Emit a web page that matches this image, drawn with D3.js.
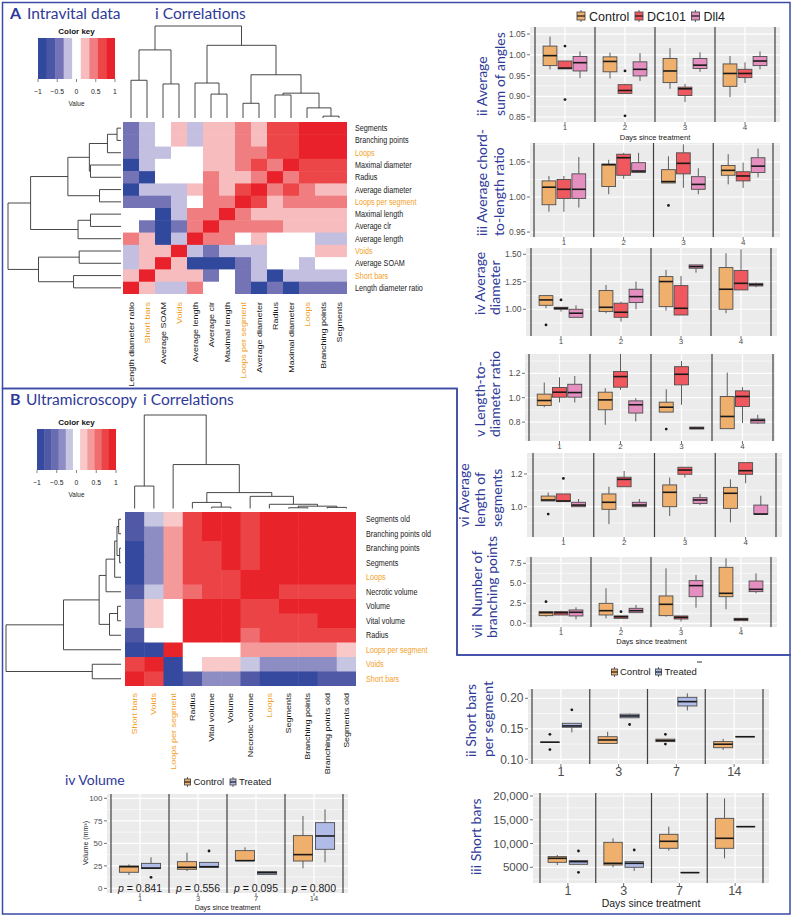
<!DOCTYPE html>
<html>
<head>
<meta charset="utf-8">
<script src="https://cdn.jsdelivr.net/npm/d3@7"></script>
<style>
  body { margin: 0; background: #fff; }
  svg text { white-space: pre; }
</style>
</head>
<body>
<svg id="fig" width="793" height="917"></svg>
<script>
// ---------- A: intravital correlation heatmap ----------
const aCols = ['Length diameter ratio', 'Short bars', 'Average SOAM', 'Voids', 'Average length', 'Average clr',
    'Maximal length', 'Loops per segment', 'Average diameter', 'Radius', 'Maximal diameter', 'Loops',
    'Branching points', 'Segments'];
const aRows = aCols.slice().reverse();
const aCorr = [
    [-0.5, -0.25, 0, 0.25, -0.25, 0.25, 0.25, 0.45, 0.25, 0.7, 0.7, 0.9, 0.9, 1],
    [-0.5, -0.25, 0, 0.25, -0.25, 0.25, 0.25, 0.45, 0.25, 0.7, 0.7, 0.9, 1, 0.9],
    [-0.5, -0.25, -0.25, 0, 0, 0.25, 0.25, 0.45, 0.45, 0.7, 0.7, 1, 0.9, 0.9],
    [-0.9, -0.25, 0, 0, 0, 0.25, 0.25, 0.45, 0.7, 0.45, 1, 0.7, 0.7, 0.7],
    [-0.5, -0.9, 0, 0, 0, 0.45, 0.25, 0.25, 0.45, 1, 0.45, 0.7, 0.7, 0.7],
    [-0.9, -0.25, -0.25, -0.25, 0.25, 0.45, 0.25, 0.7, 1, 0.45, 0.7, 0.45, 0.25, 0.25],
    [-0.5, -0.5, -0.5, -0.25, 0, 0.45, 0.45, 1, 0.7, 0.25, 0.45, 0.45, 0.45, 0.45],
    [0, 0, -0.9, -0.25, 0.45, 0.45, 1, 0.45, 0.25, 0.25, 0.25, 0.25, 0.25, 0.25],
    [0, -0.5, -0.9, -0.5, 0.45, 1, 0.45, 0.45, 0.45, 0.45, 0.25, 0.25, 0.25, 0.25],
    [0.45, 0.25, -0.9, -0.25, 1, 0.45, 0.45, 0, 0.25, 0, 0, 0, -0.25, -0.25],
    [-0.25, 0.25, 0.25, 1, -0.25, -0.5, -0.25, -0.25, -0.25, 0, 0, 0, 0.25, 0.25],
    [-0.25, 0.25, 1, 0.25, -0.9, -0.9, -0.9, -0.5, -0.25, 0, 0, -0.25, 0, 0],
    [0.25, 1, 0.25, 0.25, 0.25, -0.5, 0, -0.5, -0.25, -0.9, -0.25, -0.25, -0.25, -0.25],
    [1, 0.25, -0.25, -0.25, 0.45, 0, 0, -0.5, -0.9, -0.5, -0.9, -0.5, -0.5, -0.5]
];
// trees: [height, left, right], leaves are indices
const aColTree = [1.0, [0.74, [0.41, 0, 1], [0.37, 2, 3]],
    [0.79, [0.38, 4, [0.26, 5, 6]], [0.47, [0.16, 7, 8], [0.27, [0.25, 9, 10], [0.11, 11, [0.02, 12, 13]]]]]];
const aRowTree = [1.0, [0.80, [0.47, [0.28, [0.12, [0.035, 0, 1], 2], [0.27, 3, 4]], [0.19, 5, 6]], [0.38, [0.27, 7, 8], 9]],
    [0.73, [0.37, 10, 11], [0.42, 12, 13]]];
const aPalette = ['#30499d', '#4a56a6', '#7473b6', '#c2bfe0', '#ffffff', '#f7bcbe', '#f07e80', '#ec4648', '#e8212a'];

// ---------- B: ultramicroscopy correlation heatmap ----------
const bCols = ['Short bars', 'Voids', 'Loops per segment', 'Radius', 'Vital volume', 'Volume', 'Necrotic volume',
    'Loops', 'Segments', 'Branching points', 'Branching points old', 'Segments old'];
const bRows = bCols.slice().reverse();
const bCorr = [
    [-0.75, -0.2, 0.2, 0.75, 0.92, 0.92, 0.75, 0.92, 0.92, 0.92, 0.92, 1],
    [-0.75, -0.4, 0.4, 0.75, 0.92, 0.92, 0.75, 0.92, 0.92, 0.92, 1, 0.92],
    [-0.9, -0.4, 0.4, 0.75, 0.75, 0.92, 0.75, 0.92, 0.92, 1, 0.92, 0.92],
    [-0.9, -0.4, 0.4, 0.75, 0.75, 0.92, 0.75, 0.92, 1, 0.92, 0.92, 0.92],
    [-0.9, -0.4, 0.4, 0.75, 0.75, 0.75, 0.92, 1, 0.92, 0.92, 0.92, 0.92],
    [-0.75, -0.2, 0.4, 0.55, 0.75, 0.75, 1, 0.92, 0.75, 0.75, 0.75, 0.75],
    [-0.4, 0.2, 0, 0.92, 0.92, 1, 0.75, 0.75, 0.92, 0.92, 0.92, 0.92],
    [-0.4, 0.2, 0, 0.92, 1, 0.92, 0.75, 0.75, 0.75, 0.75, 0.92, 0.92],
    [-0.75, 0, 0, 1, 0.92, 0.92, 0.55, 0.75, 0.75, 0.75, 0.75, 0.75],
    [-0.9, -0.9, 1, 0, 0, 0, 0.4, 0.4, 0.4, 0.4, 0.4, 0.2],
    [0.75, 1, -0.9, 0, 0.2, 0.2, -0.2, -0.4, -0.4, -0.4, -0.4, -0.2],
    [1, 0.75, -0.9, -0.75, -0.4, -0.4, -0.75, -0.9, -0.9, -0.9, -0.75, -0.75]
];
const bColTree = [1.0, [0.24, 0, 1], [0.47, 2, [0.17, [0.065, 3, [0.015, 4, 5]],
    [0.13, 6, [0.045, 7, [0.025, [0.008, 8, 9], [0.012, 10, 11]]]]]]];
const bRowTree = [1.0, [0.5, [0.19, [0.13, [0.055, [0.035, [0.02, 0, 1], [0.012, 2, 3]], 4], 5], [0.1, [0.03, 6, 7], 8]], 9],
    [0.25, 10, 11]];
const bPalette = ['#35499e', '#5059a6', '#6a6cb2', '#8d8dc4', '#c6c5e2', '#ffffff', '#f9c9c9', '#f49a9a', '#ef6d6f', '#ec4446', '#e8242a'];

const orangeVars = ['Short bars', 'Voids', 'Loops per segment', 'Loops'];
const keyTicks = [-1, -0.5, 0, 0.5, 1];

// ---------- box plot data: [lowWhisker, q1, median, q3, highWhisker, ...outliers] ----------
const days4 = ['1', '2', '3', '4'];
const daysB = ['1', '3', '7', '14'];
const groups3 = ['Control', 'DC101', 'Dll4'];
const groups2 = ['Control', 'Treated'];

const angTicks = [0.85, 0.90, 0.95, 1.00, 1.05];
const angControl = [[0.965, 0.974, 0.998, 1.021, 1.044], [0.943, 0.959, 0.984, 0.995, 1.005], [0.918, 0.933, 0.961, 0.991, 1.016], [0.898, 0.924, 0.955, 0.978, 0.997]];
const angDC101 = [[0.966, 0.966, 0.968, 0.985, 0.985, 1.021, 0.892], [0.906, 0.907, 0.914, 0.928, 0.930, 0.961, 0.853], [0.886, 0.902, 0.918, 0.922, 0.930], [0.932, 0.945, 0.955, 0.965, 0.982]];
const angDll4 = [[0.944, 0.961, 0.981, 0.996, 1.008], [0.937, 0.949, 0.965, 0.983, 1.004], [0.959, 0.967, 0.975, 0.991, 1.006], [0.965, 0.974, 0.985, 0.996, 1.008]];

const chordTicks = [0.95, 1.00, 1.05];
const chordControl = [[0.979, 0.989, 1.014, 1.023, 1.030], [1.004, 1.015, 1.046, 1.047, 1.053], [1.020, 1.020, 1.022, 1.039, 1.058, 0.988], [1.018, 1.031, 1.038, 1.045, 1.061]];
const chordDC101 = [[0.979, 0.998, 1.011, 1.025, 1.030], [1.026, 1.031, 1.056, 1.061, 1.063], [1.013, 1.033, 1.048, 1.063, 1.075], [1.013, 1.023, 1.030, 1.036, 1.049]];
const chordDll4 = [[0.985, 0.998, 1.011, 1.033, 1.057], [1.035, 1.035, 1.037, 1.049, 1.063], [1.004, 1.011, 1.018, 1.029, 1.041], [1.028, 1.035, 1.044, 1.056, 1.069]];

const diamTicks = [1.00, 1.25, 1.50];
const diamControl = [[1.009, 1.036, 1.085, 1.124, 1.13, 0.858], [0.964, 0.979, 1.018, 1.170, 1.221], [0.988, 1.024, 1.252, 1.297, 1.358], [0.964, 1.0, 1.182, 1.379, 1.509]];
const diamDC101 = [[0.979, 1.0, 1.009, 1.018, 1.018, 1.085], [0.888, 0.927, 0.973, 1.055, 1.070], [0.948, 0.948, 1.009, 1.215, 1.303], [1.176, 1.176, 1.236, 1.352, 1.545]];
const diamDll4 = [[0.927, 0.927, 0.964, 1.0, 1.036], [1.0, 1.061, 1.115, 1.182, 1.252], [1.333, 1.373, 1.388, 1.403, 1.403], [1.2, 1.212, 1.224, 1.236, 1.242]];

const ldrTicks = [0.8, 1.0, 1.2];
const ldrControl = [[0.922, 0.936, 0.977, 1.029, 1.124], [0.778, 0.901, 0.982, 1.045, 1.078], [0.882, 0.882, 0.922, 0.963, 1.069, 0.743], [0.746, 0.746, 0.846, 1.01, 1.205]];
const ldrDC101 = [[0.961, 1.004, 1.045, 1.083, 1.167], [1.064, 1.086, 1.173, 1.214, 1.358], [0.942, 1.105, 1.192, 1.254, 1.3], [0.792, 0.928, 1.01, 1.056, 1.086]];
const ldrDll4 = [[0.961, 1.004, 1.042, 1.110, 1.178], [0.806, 0.874, 0.942, 0.974, 0.996], [0.743, 0.743, 0.751, 0.759, 0.759], [0.786, 0.792, 0.814, 0.825, 0.860]];

const segTicks = [1.0, 1.2];
const segControl = [[1.035, 1.035, 1.041, 1.065, 1.086, 0.955], [0.894, 0.984, 1.027, 1.078, 1.122], [0.943, 1.0, 1.088, 1.133, 1.178], [0.904, 0.990, 1.082, 1.118, 1.167]];
const segDC101 = [[1.031, 1.031, 1.035, 1.078, 1.078, 1.173], [1.122, 1.122, 1.167, 1.180, 1.218], [1.178, 1.198, 1.224, 1.241, 1.241], [1.143, 1.198, 1.220, 1.269, 1.269]];
const segDll4 = [[1.0, 1.0, 1.010, 1.027, 1.047], [1.0, 1.0, 1.010, 1.027, 1.047], [1.01, 1.020, 1.041, 1.055, 1.078], [0.955, 0.955, 0.955, 1.01, 1.067]];

const brTicks = [0.0, 2.5, 5.0, 7.5];
const brControl = [[0.83, 0.96, 1.33, 1.46, 1.46, 2.71], [0.625, 1.04, 1.58, 2.5, 4.38], [0.83, 0.96, 2.375, 3.42, 6.875], [1.75, 3.33, 3.75, 7.0, 8.125]];
const brDC101 = [[1.04, 1.04, 1.33, 1.46, 1.58], [0.625, 0.625, 0.83, 0.92, 0.92, 1.46], [0.21, 0.54, 0.75, 0.92, 0.92], [0.33, 0.33, 0.5, 0.625, 0.625]];
const brDll4 = [[0.5, 0.92, 1.38, 1.67, 2.0], [1.33, 1.33, 1.58, 1.875, 2.29], [1.96, 3.33, 4.71, 5.33, 6.04], [3.75, 3.96, 4.25, 5.29, 6.25]];

const sbpsTicks = [0.10, 0.15, 0.20];
const sbpsControl = [[0.128, 0.128, 0.128, 0.128, 0.128, 0.141, 0.116], [0.126, 0.126, 0.1317, 0.137, 0.145], [0.129, 0.129, 0.1307, 0.133, 0.133, 0.141, 0.125], [0.1154, 0.119, 0.1247, 0.129, 0.1334]];
const sbpsTreated = [[0.144, 0.1525, 0.1547, 0.159, 0.159, 0.181], [0.168, 0.168, 0.171, 0.174, 0.175, 0.157], [0.18, 0.1874, 0.1945, 0.2016, 0.208], [0.137, 0.137, 0.137, 0.137, 0.137]];

const sbTicks = [5000, 10000, 15000, 20000];
const sbControl = [[5490, 6050, 6891, 7242, 7593], [5000, 5490, 5840, 10256, 11100], [8500, 9000, 10470, 11940, 13550], [6890, 9000, 11100, 15300, 19500]];
const sbTreated = [[5630, 5630, 6190, 6400, 6400, 8430, 3950], [4230, 5000, 5840, 6190, 6330, 8640], [3880, 3880, 3880, 3880, 3880], [13550, 13550, 13550, 13550, 13550]];

const volTicks = [0, 25, 50, 75, 100];
const volControl = [[14.9, 17.9, 24.1, 24.9, 26.7], [19.3, 21.2, 23.4, 29.7, 39.7], [30.8, 30.8, 30.8, 41.9, 45.6], [22.3, 30.4, 37.5, 58.6, 80.4]];
const volTreated = [[22.0, 22.0, 22.6, 27.8, 34.5, 12.3], [23.4, 23.4, 24.1, 28.9, 28.9, 41.5], [15.6, 15.6, 17.5, 18.6, 18.6], [29, 43.4, 58.2, 73, 87.8]];
const volP = ['0.841', '0.556', '0.095', '0.800'];

// ---------- style ----------
const svg = d3.select('#fig');
const FONT_T = 'Lato, "Open Sans", sans-serif';
const FONT_H = '"Liberation Sans", Arial, Helvetica, sans-serif';
const BLUE = '#2e3a98';
const FRAME = '#3b4aa6';
const ORANGE = '#f4a12a';
const cols3 = ['#efb06d', '#f0585f', '#e48fc0'];
const cols2 = ['#efb06d', '#b1bbe7'];

// frames
svg.append('path').attr('d', 'M2.5,2.5H790V655H457V388.5H2.5Z')
    .attr('fill', 'none').attr('stroke', FRAME).attr('stroke-width', 1.5);
svg.append('path').attr('d', 'M2.5,388.5H457V655H790V914H2.5Z')
    .attr('fill', 'none').attr('stroke', FRAME).attr('stroke-width', 1.5);

function label(x, y, str, size, opts = {}) {
    return svg.append('text').attr('x', x).attr('y', y)
        .attr('font-family', opts.family || FONT_T)
        .attr('font-size', size)
        .attr('fill', opts.fill || BLUE)
        .attr('font-weight', opts.bold ? 'bold' : null)
        .attr('text-anchor', opts.anchor || 'start')
        .text(str);
}

label(10, 19, 'A', 16, {bold: true});
label(27, 19, 'Intravital data', 15.5);
label(155, 19, 'i Correlations', 15.5);
label(10, 405, 'B', 16, {bold: true});
label(26, 405, 'Ultramicroscopy', 15.5);
label(143, 405, 'i Correlations', 15.5);
label(65, 785, 'iv Volume', 14);

function drawTree(g, tree, leaf, hpos, orient) {
    const path = d3.path();
    (function walk(node) {
        if (typeof node === 'number') return {p: leaf(node), h: 0};
        const a = walk(node[1]), b = walk(node[2]);
        const h = node[0];
        if (orient === 'top') {
            path.moveTo(a.p, hpos(a.h));
            path.lineTo(a.p, hpos(h));
            path.lineTo(b.p, hpos(h));
            path.lineTo(b.p, hpos(b.h));
        } else {
            path.moveTo(hpos(a.h), a.p);
            path.lineTo(hpos(h), a.p);
            path.lineTo(hpos(h), b.p);
            path.lineTo(hpos(b.h), b.p);
        }
        return {p: (a.p + b.p) / 2, h: h};
    })(tree);
    g.append('path').attr('d', path.toString())
        .attr('fill', 'none').attr('stroke', '#333').attr('stroke-width', 0.9);
}

function heatmap(o) {
    const g = svg.append('g');
    const xs = d3.scaleBand().domain(d3.range(o.cols.length)).range([o.x0, o.x1]);
    const ys = d3.scaleBand().domain(d3.range(o.rows.length)).range([o.y0, o.y1]);
    const color = d3.scaleQuantize().domain([-1, 1]).range(o.palette);

    o.vals.forEach((row, r) => row.forEach((v, c) => {
        g.append('rect')
            .attr('x', xs(c)).attr('y', ys(r))
            .attr('width', xs.bandwidth() + (c < o.cols.length - 1 ? 0.5 : 0))
            .attr('height', ys.bandwidth() + (r < o.rows.length - 1 ? 0.5 : 0))
            .attr('fill', color(v));
    }));

    o.rows.forEach((name, r) => {
        g.append('text')
            .attr('transform', `translate(${o.rowLabelX},${ys(r) + ys.bandwidth() / 2 + 3}) scale(0.8,1)`)
            .attr('font-family', FONT_H).attr('font-size', 9)
            .attr('fill', orangeVars.includes(name) ? ORANGE : '#1a1a1a')
            .text(name);
    });
    o.cols.forEach((name, c) => {
        g.append('text')
            .attr('transform', `translate(${xs(c) + xs.bandwidth() / 2 + 2.6},${o.colLabelY}) scale(0.8,1) rotate(-90)`)
            .attr('text-anchor', 'end')
            .attr('font-family', FONT_H).attr('font-size', 9)
            .attr('fill', orangeVars.includes(name) ? ORANGE : '#1a1a1a')
            .text(name);
    });

    drawTree(g, o.colTree, i => xs(i) + xs.bandwidth() / 2, d => o.topBase - d * o.topScale, 'top');
    drawTree(g, o.rowTree, i => ys(i) + ys.bandwidth() / 2, d => o.leftBase - d * o.leftScale, 'left');

    // colour key
    const k = o.key;
    const n = o.palette.length;
    const bw = (k.x1 - k.x0) / n;
    o.palette.forEach((c, i) => {
        g.append('rect').attr('x', k.x0 + i * bw).attr('y', k.y0)
            .attr('width', bw + (i < n - 1 ? 0.4 : 0)).attr('height', k.y1 - k.y0)
            .attr('fill', c);
    });
    const ks = d3.scaleLinear().domain([-1, 1]).range([k.x0, k.x1]);
    keyTicks.forEach(t => {
        g.append('line').attr('x1', ks(t)).attr('x2', ks(t)).attr('y1', k.y1).attr('y2', k.y1 + 3)
            .attr('stroke', '#333').attr('stroke-width', 0.6);
        g.append('text').attr('x', ks(t)).attr('y', k.y1 + 15)
            .attr('text-anchor', 'middle').attr('font-family', FONT_H).attr('font-size', 6.8)
            .attr('fill', '#222').text(t < 0 ? '\u2212' + Math.abs(t) : String(t));
    });
    g.append('text').attr('x', (k.x0 + k.x1) / 2).attr('y', k.y0 - 4.5)
        .attr('text-anchor', 'middle').attr('font-family', FONT_H).attr('font-size', 8)
        .attr('font-weight', 'bold').attr('fill', '#111').text('Color key');
    g.append('text').attr('x', (k.x0 + k.x1) / 2).attr('y', k.y1 + 27)
        .attr('text-anchor', 'middle').attr('font-family', FONT_H).attr('font-size', 6.4)
        .attr('fill', '#222').text('Value');
}

heatmap({
    cols: aCols, rows: aRows, vals: aCorr, palette: aPalette,
    x0: 123, x1: 347, y0: 122, y1: 294,
    colTree: aColTree, rowTree: aRowTree,
    topBase: 118, topScale: 92, leftBase: 121, leftScale: 113,
    rowLabelX: 355, colLabelY: 302,
    key: {x0: 38, x1: 115, y0: 38, y1: 79}
});

heatmap({
    cols: bCols, rows: bRows, vals: bCorr, palette: bPalette,
    x0: 125, x1: 356, y0: 512, y1: 686,
    colTree: bColTree, rowTree: bRowTree,
    topBase: 508.5, topScale: 93.5, leftBase: 121, leftScale: 115,
    rowLabelX: 366, colLabelY: 693,
    key: {x0: 37, x1: 116, y0: 429, y1: 470}
});

// ---------- box plots ----------
function boxPanel(o) {
    const g = svg.append('g');
    const [rx0, ry0, rx1, ry1] = o.rect;
    const n = o.cats.length;
    const x = d3.scaleLinear().domain([0.5, n + 0.5]).range(o.vr);
    const y = d3.scaleLinear().domain(o.yDom).range([ry1, ry0]);

    g.append('rect').attr('x', rx0).attr('y', ry0)
        .attr('width', rx1 - rx0).attr('height', ry1 - ry0).attr('fill', '#ebebeb');

    const step = o.ticks[1] - o.ticks[0];
    const minors = [];
    for (let v = o.ticks[0] - step / 2; v < o.yDom[1]; v += step) {
        if (v > o.yDom[0]) minors.push(v);
    }
    g.selectAll(null).data(minors).join('line')
        .attr('x1', rx0).attr('x2', rx1).attr('y1', d => y(d)).attr('y2', d => y(d))
        .attr('stroke', '#fff').attr('stroke-width', 0.6);
    g.selectAll(null).data(o.ticks).join('line')
        .attr('x1', rx0).attr('x2', rx1).attr('y1', d => y(d)).attr('y2', d => y(d))
        .attr('stroke', '#fff').attr('stroke-width', 1.2);
    g.selectAll(null).data(d3.range(1, n + 1)).join('line')
        .attr('x1', d => x(d)).attr('x2', d => x(d)).attr('y1', ry0).attr('y2', ry1)
        .attr('stroke', '#fff').attr('stroke-width', 1.2);
    g.selectAll(null).data(d3.range(0, n + 1).map(i => i + 0.5)).join('line')
        .attr('x1', d => x(d)).attr('x2', d => x(d)).attr('y1', ry0).attr('y2', ry1)
        .attr('stroke', '#2e2e2e').attr('stroke-width', 1.2).attr('opacity', 0.9);

    const hw = (x(1 + o.bw) - x(1)) / 2;
    o.series.forEach((ser, si) => ser.forEach((d, i) => {
        const cx = x(i + 1 + o.off[si]);
        const [lo, q1, med, q3, hi] = d;
        g.append('line').attr('x1', cx).attr('x2', cx).attr('y1', y(hi)).attr('y2', y(q3))
            .attr('stroke', '#4d4d4d').attr('stroke-width', 0.9);
        g.append('line').attr('x1', cx).attr('x2', cx).attr('y1', y(q1)).attr('y2', y(lo))
            .attr('stroke', '#4d4d4d').attr('stroke-width', 0.9);
        g.append('rect').attr('x', cx - hw).attr('y', y(q3))
            .attr('width', hw * 2).attr('height', Math.max(y(q1) - y(q3), 0.01))
            .attr('fill', o.colors[si]).attr('stroke', '#4d4d4d').attr('stroke-width', 0.9);
        g.append('line').attr('x1', cx - hw).attr('x2', cx + hw).attr('y1', y(med)).attr('y2', y(med))
            .attr('stroke', '#1a1a1a').attr('stroke-width', 1.6);
        d.slice(5).forEach(v => {
            g.append('circle').attr('cx', cx).attr('cy', y(v)).attr('r', 1.4).attr('fill', '#1a1a1a');
        });
    }));

    // y axis
    o.ticks.forEach(t => {
        g.append('line').attr('x1', rx0 - 3).attr('x2', rx0).attr('y1', y(t)).attr('y2', y(t))
            .attr('stroke', '#333').attr('stroke-width', 0.7);
        g.append('text').attr('x', rx0 - 4.5).attr('y', y(t)).attr('dy', '0.35em')
            .attr('text-anchor', 'end').attr('font-family', FONT_H).attr('font-size', o.tick)
            .attr('fill', '#4d4d4d').text(o.fmt(t));
    });
    // x axis
    o.cats.forEach((c, i) => {
        g.append('line').attr('x1', x(i + 1)).attr('x2', x(i + 1)).attr('y1', ry1).attr('y2', ry1 + 3)
            .attr('stroke', '#333').attr('stroke-width', 0.7);
        g.append('text').attr('x', x(i + 1)).attr('y', ry1 + o.xtick * 0.72 + 2.5)
            .attr('text-anchor', 'middle').attr('font-family', FONT_H).attr('font-size', o.xtick)
            .attr('fill', '#4d4d4d').text(c);
    });
    if (o.xlab) {
        g.append('text').attr('x', (rx0 + rx1) / 2).attr('y', o.xlab.y)
            .attr('text-anchor', 'middle').attr('font-family', FONT_H).attr('font-size', o.xlab.size)
            .attr('fill', '#1a1a1a').text('Days since treatment');
    }
    if (o.title) {
        o.title.forEach((t, k) => {
            g.append('text').attr('transform', `translate(${o.titleX[k]},${o.titleY}) rotate(-90)`)
                .attr('font-family', FONT_T).attr('font-size', 14).attr('fill', BLUE).text(t);
        });
    }
    return {g, x, y};
}

const f2 = d3.format('.2f');
const f1 = d3.format('.1f');

boxPanel({rect: [530, 27, 780, 122], vr: [535, 775], yDom: [0.838, 1.067], ticks: angTicks, fmt: f2,
    cats: days4, series: [angControl, angDC101, angDll4], colors: cols3, off: [-0.25, 0, 0.25], bw: 0.23,
    tick: 8.5, xtick: 8, title: ['ii Average', 'sum of angles'], titleX: [487, 505], titleY: 116,
    xlab: {y: 139.5, size: 7.5}});

boxPanel({rect: [530, 143, 780, 237], vr: [534, 773], yDom: [0.943, 1.077], ticks: chordTicks, fmt: f2,
    cats: days4, series: [chordControl, chordDC101, chordDll4], colors: cols3, off: [-0.25, 0, 0.25], bw: 0.23,
    tick: 8.5, xtick: 8, title: ['iii Average chord-', 'to-length ratio'], titleX: [487, 504], titleY: 236});

boxPanel({rect: [526, 248, 777, 336], vr: [531, 771], yDom: [0.757, 1.557], ticks: diamTicks, fmt: f2,
    cats: days4, series: [diamControl, diamDC101, diamDll4], colors: cols3, off: [-0.25, 0, 0.25], bw: 0.23,
    tick: 8.5, xtick: 8, title: ['iv Average', 'diameter'], titleX: [485, 500], titleY: 315});

boxPanel({rect: [525, 354, 775, 441], vr: [529, 773], yDom: [0.645, 1.358], ticks: ldrTicks, fmt: f1,
    cats: days4, series: [ldrControl, ldrDC101, ldrDll4], colors: cols3, off: [-0.25, 0, 0.25], bw: 0.23,
    tick: 8.5, xtick: 8, title: ['v Length-to-', 'diameter ratio'], titleX: [485, 500], titleY: 437});

boxPanel({rect: [527, 453, 782, 537], vr: [533, 776], yDom: [0.815, 1.328], ticks: segTicks, fmt: f1,
    cats: days4, series: [segControl, segDC101, segDll4], colors: cols3, off: [-0.25, 0, 0.25], bw: 0.23,
    tick: 8.5, xtick: 8, title: ['vi Average', 'length of', 'segments'], titleX: [469, 485, 502], titleY: 527});

boxPanel({rect: [526, 557, 777, 627], vr: [531, 771], yDom: [-0.46, 8.29], ticks: brTicks, fmt: f1,
    cats: days4, series: [brControl, brDC101, brDll4], colors: cols3, off: [-0.25, 0, 0.25], bw: 0.23,
    tick: 8.5, xtick: 8, title: ['vii  Number of', 'branching points'], titleX: [482, 497], titleY: 638,
    xlab: {y: 644, size: 7.5}});

boxPanel({rect: [528, 689, 769, 764], vr: [532, 763], yDom: [0.0923, 0.2152], ticks: sbpsTicks, fmt: f2,
    cats: daysB, series: [sbpsControl, sbpsTreated], colors: cols2, off: [-0.19, 0.19], bw: 0.33,
    tick: 12, xtick: 12.5, title: ['ii Short bars', 'per segment'], titleX: [476, 493], titleY: 757});

boxPanel({rect: [533, 793, 769, 883], vr: [540, 763], yDom: [1697, 20631], ticks: sbTicks,
    fmt: v => v >= 10000 ? d3.format(',')(v) : String(v),
    cats: daysB, series: [sbControl, sbTreated], colors: cols2, off: [-0.19, 0.19], bw: 0.33,
    tick: 11.5, xtick: 12.5, title: ['iii Short bars'], titleX: [481], titleY: 875,
    xlab: {y: 906.5, size: 10.5}});

const vol = boxPanel({rect: [107, 794, 348, 893], vr: [111, 343], yDom: [-5.1, 104.8], ticks: volTicks,
    fmt: d3.format('d'), cats: daysB, series: [volControl, volTreated], colors: cols2,
    off: [-0.19, 0.19], bw: 0.33, tick: 8, xtick: 7.5, xlab: {y: 909.5, size: 7}});

volP.forEach((p, i) => {
    const t = vol.g.append('text').attr('x', vol.x(i + 1)).attr('y', 891.5)
        .attr('text-anchor', 'middle').attr('font-family', FONT_H).attr('font-size', 10.5).attr('fill', '#1a1a1a');
    t.append('tspan').attr('font-style', 'italic').text('p');
    t.append('tspan').text(' = ' + p);
});
vol.g.append('text').attr('transform', 'translate(88,843) rotate(-90)')
    .attr('text-anchor', 'middle').attr('font-family', FONT_H).attr('font-size', 7)
    .attr('fill', '#1a1a1a').text('Volume (mm\u00b3)');

// ---------- legends ----------
function legend(labels, colors, keyX, textX, cy, size, fontSize) {
    labels.forEach((lab, i) => {
        const cx = keyX[i];
        svg.append('line').attr('x1', cx).attr('x2', cx).attr('y1', cy - size / 2 - 2).attr('y2', cy + size / 2 + 2)
            .attr('stroke', '#4d4d4d').attr('stroke-width', 0.9);
        svg.append('rect').attr('x', cx - size / 2).attr('y', cy - size / 2).attr('width', size).attr('height', size)
            .attr('fill', colors[i]).attr('stroke', '#4d4d4d').attr('stroke-width', 0.9);
        svg.append('line').attr('x1', cx - size / 2).attr('x2', cx + size / 2).attr('y1', cy).attr('y2', cy)
            .attr('stroke', '#1a1a1a').attr('stroke-width', 1.2);
        svg.append('text').attr('x', textX[i]).attr('y', cy).attr('dy', '0.36em')
            .attr('font-family', FONT_H).attr('font-size', fontSize).attr('fill', '#1a1a1a').text(lab);
    });
}
legend(groups3, cols3, [581, 639, 695.5], [589, 647, 703.5], 16, 8, 12.5);
legend(groups2, cols2, [614.5, 658.5], [620, 664.5], 672, 6, 9.5);
legend(groups2, cols2, [187.5, 233], [193.5, 239], 782, 6, 9.5);
svg.append('line').attr('x1', 697).attr('x2', 702).attr('y1', 662).attr('y2', 662)
    .attr('stroke', '#333').attr('stroke-width', 1);
</script>
</body>
</html>
